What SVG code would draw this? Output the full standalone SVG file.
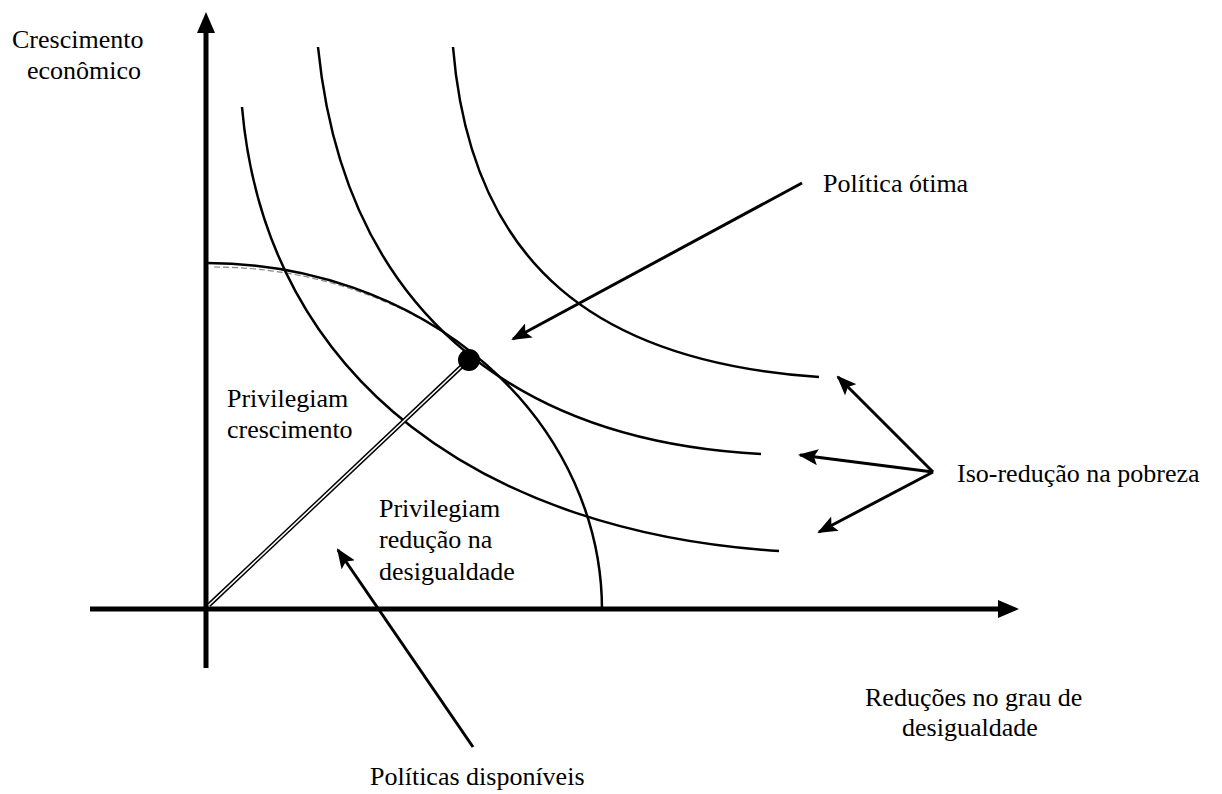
<svg xmlns="http://www.w3.org/2000/svg" width="1222" height="794" viewBox="0 0 1222 794">
<style>
text{font-family:"Liberation Serif","Times New Roman",serif;font-size:26px;fill:#000}
.curve{fill:none;stroke:#000;stroke-width:2.5}
.axis{stroke:#000;stroke-width:5;fill:none}
.arr{stroke:#000;stroke-width:3;fill:none}
.head{fill:#000}
</style>
<defs>
<marker id="ah" viewBox="0 0 20 16" refX="18" refY="8" markerWidth="20" markerHeight="16" markerUnits="userSpaceOnUse" orient="auto">
<path d="M0,0 L20,8 L0,16 L4,8 Z" fill="#000"/>
</marker>
</defs>
<rect width="1222" height="794" fill="#fff"/>
<g id="axes">
<line class="axis" x1="206" y1="668" x2="206" y2="28"/>
<polygon class="head" points="206,12 215,33 197,33"/>
<line class="axis" x1="90" y1="609" x2="1002" y2="609"/>
<polygon class="head" points="1019,609 998,600 998,618"/>
</g>
<g id="curves">
<path id="ppf-shadow" d="M214,267 A395 347 0 0 1 440,330" fill="none" stroke="#888" stroke-width="1.2" stroke-dasharray="6 3"/>
<path id="ppf" class="curve" d="M207,263 A395 347 0 0 1 602,610"/>
<path id="iso1" class="curve" d="M242,107 C266,385 490,533 779,551"/>
<path id="iso2" class="curve" d="M318,47 C344,307 511,441 761,454"/>
<path id="iso3" class="curve" d="M453,47 C471,267 599,362 819,377"/>
</g>
<g id="ray">
<line x1="209" y1="605" x2="462" y2="366" stroke="#000" stroke-width="4.5"/>
<line x1="209" y1="605" x2="462" y2="366" stroke="#fff" stroke-width="1.6"/>
</g>
<g id="optimum">
<circle cx="469" cy="360" r="11" fill="#000"/>
</g>
<g id="connectors">
<line class="arr" x1="802" y1="183" x2="513" y2="339" marker-end="url(#ah)"/>
<line class="arr" x1="933" y1="472" x2="838" y2="377" marker-end="url(#ah)"/>
<line class="arr" x1="933" y1="472" x2="800" y2="455" marker-end="url(#ah)"/>
<line class="arr" x1="933" y1="472" x2="819" y2="532" marker-end="url(#ah)"/>
<line class="arr" x1="473" y1="747" x2="338" y2="550" marker-end="url(#ah)"/>
</g>
<g id="label-y">
<text x="12" y="48">Crescimento</text>
<text x="27" y="79">econômico</text>
</g>
<g id="label-otima"><text x="823" y="192">Política ótima</text></g>
<g id="label-iso"><text x="957" y="482">Iso-redução na pobreza</text></g>
<g id="label-cresc">
<text x="227" y="407">Privilegiam</text>
<text x="227" y="438">crescimento</text>
</g>
<g id="label-red">
<text x="379" y="517">Privilegiam</text>
<text x="379" y="548">redução na</text>
<text x="379" y="580">desigualdade</text>
</g>
<g id="label-x">
<text x="865" y="706">Reduções no grau de</text>
<text x="902" y="736">desigualdade</text>
</g>
<g id="label-disp"><text x="370" y="785">Políticas disponíveis</text></g>
</svg>
